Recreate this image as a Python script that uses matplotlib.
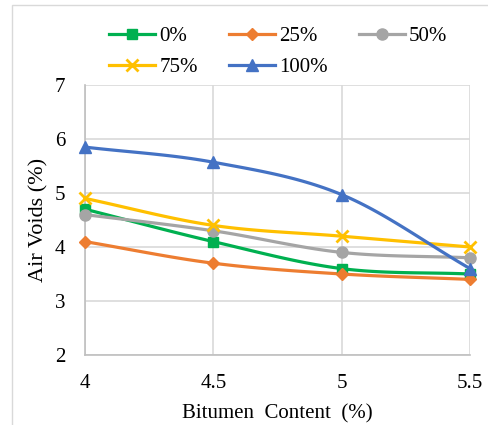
import numpy as np
import matplotlib
matplotlib.use("Agg")
import matplotlib.pyplot as plt
from matplotlib.patches import Rectangle

plt.rcParams['font.family'] = ['Liberation Serif', 'DejaVu Serif']

bitumen = [4, 4.5, 5, 5.5]
series_names = ["0%", "25%", "50%", "75%", "100%"]
v0 = [4.7, 4.1, 3.6, 3.5]
v25 = [4.1, 3.7, 3.5, 3.4]
v50 = [4.6, 4.3, 3.9, 3.8]
v75 = [4.9, 4.4, 4.2, 4.0]
v100 = [5.85, 5.57, 4.97, 3.6]

colors = ["#00B050", "#ED7D31", "#A5A5A5", "#FFC000", "#4472C4"]
markers = ["s", "D", "o", "x", "^"]
msizes = [7, 6, 8, 9, 8]


def catmull(x, y, n=30):
    x = np.asarray(x, float); y = np.asarray(y, float)
    px = np.concatenate([[2 * x[0] - x[1]], x, [2 * x[-1] - x[-2]]])
    py = np.concatenate([[2 * y[0] - y[1]], y, [2 * y[-1] - y[-2]]])
    xs, ys = [], []
    t = np.linspace(0, 1, n)
    for i in range(1, len(px) - 2):
        p0, p1, p2, p3 = [np.array([px[j], py[j]]) for j in range(i - 1, i + 3)]
        m1 = (p2 - p0) / 2
        m2 = (p3 - p1) / 2
        h00 = 2 * t**3 - 3 * t**2 + 1
        h10 = t**3 - 2 * t**2 + t
        h01 = -2 * t**3 + 3 * t**2
        h11 = t**3 - t**2
        pts = (np.outer(h00, p1) + np.outer(h10, m1) + np.outer(h01, p2) + np.outer(h11, m2))
        xs.extend(pts[:, 0]); ys.extend(pts[:, 1])
    return np.array(xs), np.array(ys)


fig = plt.figure(figsize=(4.89, 4.25), dpi=100)
fig.patches.append(Rectangle((12 / 489, -0.1), 1.2, 1 - 5 / 425 + 0.1, transform=fig.transFigure,
                             fill=False, edgecolor="#D9D9D9", linewidth=1.0))
ax = fig.add_axes([85 / 489, 1 - 355 / 425, (470 - 85) / 489, (355 - 85) / 425])

handles = []
for vals, c, m, ms, name in zip([v0, v25, v50, v75, v100], colors, markers, msizes, series_names):
    sx, sy = catmull(bitumen, vals)
    ax.plot(sx, sy, color=c, linewidth=2.3, zorder=3, clip_on=False)
    ax.plot(bitumen, vals, linestyle="none", marker=m, color=c, markersize=ms,
            markeredgewidth=2 if m == "x" else 1, zorder=4, clip_on=False)
    h, = ax.plot([], [], color=c, linewidth=2.3, marker=m, markersize=ms,
                 markeredgewidth=2 if m == "x" else 1, label=name)
    handles.append(h)

ax.set_xlim(4, 5.5)
ax.set_ylim(2, 7)
ax.set_xticks([4, 4.5, 5, 5.5])
ax.set_xticklabels(["4", "4.5", "5", "5.5"])
ax.set_yticks([2, 3, 4, 5, 6, 7])
ax.grid(True, color="#D9D9D9", linewidth=1.2)
ax.set_axisbelow(True)
for s in ["top", "right"]:
    ax.spines[s].set_visible(False)
for s in ["left", "bottom"]:
    ax.spines[s].set_color("#BFBFBF")
    ax.spines[s].set_linewidth(1.2)
ax.tick_params(axis="x", length=0, labelsize=15, pad=14)
ax.tick_params(axis="y", length=0, labelsize=15, pad=14)
ax.set_xlabel("Bitumen  Content  (%)", fontsize=15, labelpad=8)
ax.set_ylabel("Air Voids (%)", fontsize=16, labelpad=5)

order = [0, 3, 1, 4, 2]
fig.legend(handles=[handles[i] for i in order], loc="upper left",
           bbox_to_anchor=(101 / 489, 1 - 18 / 425), ncol=3,
           frameon=False, fontsize=15, handlelength=2.2, columnspacing=1.5, handletextpad=0.2,
           labelspacing=0.55, borderaxespad=0)

fig.savefig("out.png", dpi=100)
